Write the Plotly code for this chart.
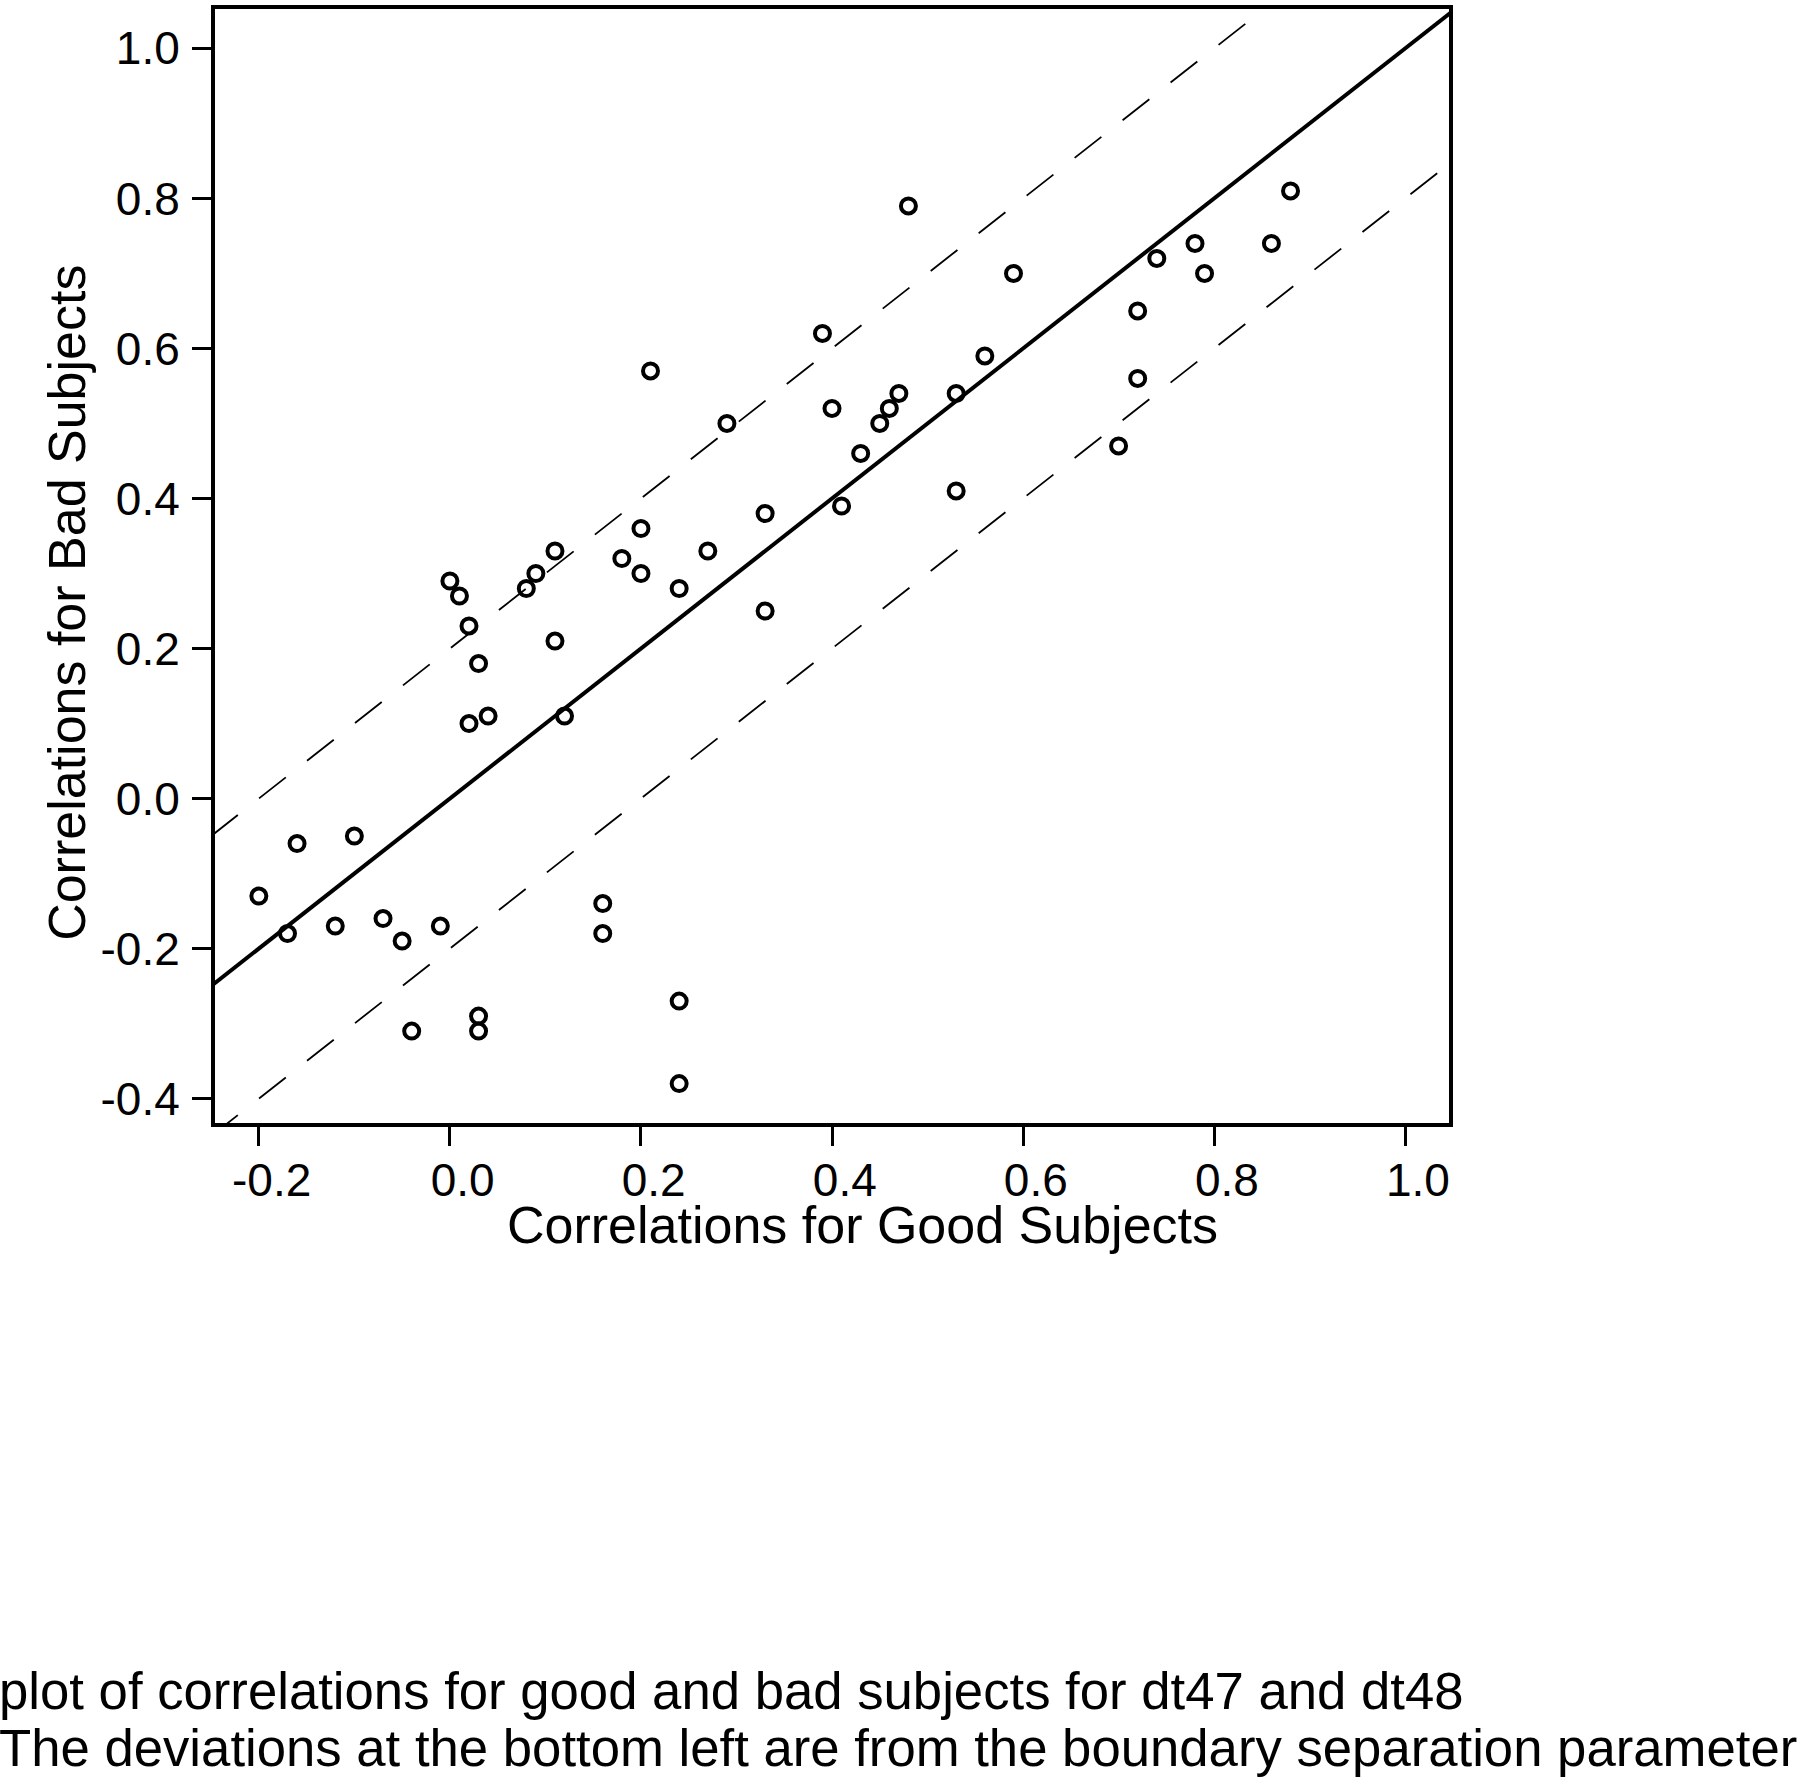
import plotly.graph_objects as go

# correlations
good = [-0.20, -0.17, -0.16, -0.12, -0.10, -0.07, -0.05, -0.04, -0.01, 0.03,
        0.03, 0.16, 0.16, 0.24, 0.24, 0.00, 0.01, 0.02, 0.03, 0.02,
        0.04, 0.08, 0.09, 0.11, 0.11, 0.12, 0.18, 0.20, 0.20, 0.21,
        0.24, 0.27, 0.29, 0.33, 0.33, 0.39, 0.40, 0.41, 0.43, 0.45,
        0.46, 0.47, 0.48, 0.53, 0.53, 0.56, 0.59, 0.70, 0.72, 0.72,
        0.74, 0.78, 0.79, 0.86, 0.88]
bad = [-0.13, -0.18, -0.06, -0.17, -0.05, -0.16, -0.19, -0.31, -0.17, -0.29,
       -0.31, -0.14, -0.18, -0.27, -0.38, 0.29, 0.27, 0.23, 0.18, 0.10,
       0.11, 0.28, 0.30, 0.33, 0.21, 0.11, 0.32, 0.36, 0.30, 0.57,
       0.28, 0.33, 0.50, 0.38, 0.25, 0.62, 0.52, 0.39, 0.46, 0.50,
       0.52, 0.54, 0.79, 0.54, 0.41, 0.59, 0.70, 0.47, 0.65, 0.56,
       0.72, 0.74, 0.70, 0.74, 0.81]

line_x = [-0.25, 1.05]   # identity line y = x
band = 0.2               # dashed lines at y = x +/- band

tick_vals = [-0.4, -0.2, 0.0, 0.2, 0.4, 0.6, 0.8, 1.0]
tick_text = ['-0.4', '-0.2', '0.0', '0.2', '0.4', '0.6', '0.8', '1.0']

W, H = 1800, 1777
L, R, T, B = 215, 351, 5, 654
PW, PH = W - L - R, H - T - B


def px(x):
    return (x - L) / PW


def py(y):
    return (H - B - y) / PH


fig = go.Figure()
for off in (band, -band):
    fig.add_trace(go.Scatter(x=line_x, y=[v + off for v in line_x], mode='lines',
                             line=dict(color='black', width=1.8, dash='34px,27px'),
                             hoverinfo='skip'))
fig.add_trace(go.Scatter(x=line_x, y=line_x, mode='lines',
                         line=dict(color='black', width=4), hoverinfo='skip'))
fig.add_trace(go.Scatter(x=good, y=bad, mode='markers',
                         marker=dict(symbol='circle-open', size=15, color='black',
                                     line=dict(width=4, color='black'))))

axis = dict(showgrid=False, zeroline=False, showline=True, linewidth=4,
            linecolor='black', mirror=True, ticks='outside', ticklen=19,
            tickwidth=3, tickcolor='black',
            tickfont=dict(size=46, color='black'))
# the original's x labels sit a little right of their ticks
nb = '\u00a0\u00a0'
fig.update_xaxes(range=[-0.2459, 1.0459], tickvals=tick_vals[1:],
                 ticktext=[nb + t for t in tick_text[1:]], ticklabelstandoff=-5,
                 **axis)
fig.update_yaxes(range=[-0.4325, 1.0525], tickvals=tick_vals,
                 ticktext=tick_text, ticklabelstandoff=3, **axis)

font = dict(family='Liberation Sans, Arial, sans-serif', size=52, color='black')
cap_font = dict(font, size=52.7)
notes = [
    dict(text='Correlations for Good Subjects', x=px(862), y=py(1225),
         xanchor='center', yanchor='middle', font=font),
    dict(text='Correlations for Bad Subjects', x=px(67), y=py(601),
         xanchor='center', yanchor='middle', textangle=-90, font=font),
    dict(text='plot of correlations for good and bad subjects for dt47 and dt48',
         x=px(-2), y=py(1693), xanchor='left', yanchor='middle', font=cap_font),
    dict(text='The deviations at the bottom left are from the boundary separation parameter',
         x=px(-2), y=py(1750), xanchor='left', yanchor='middle', font=cap_font),
]
for n in notes:
    fig.add_annotation(xref='paper', yref='paper', showarrow=False, borderpad=0, **n)

fig.update_layout(width=W, height=H, showlegend=False,
                  margin=dict(l=L, r=R, t=T, b=B, pad=0),
                  plot_bgcolor='white', paper_bgcolor='white',
                  font=dict(family='Liberation Sans, Arial, sans-serif', color='black'))

# drop the browser's default body margin so the figure sits at the page corner
fig.write_html('out.html', config={'displayModeBar': False},
               post_script="document.body.style.margin='0';document.body.style.overflow='hidden';")
